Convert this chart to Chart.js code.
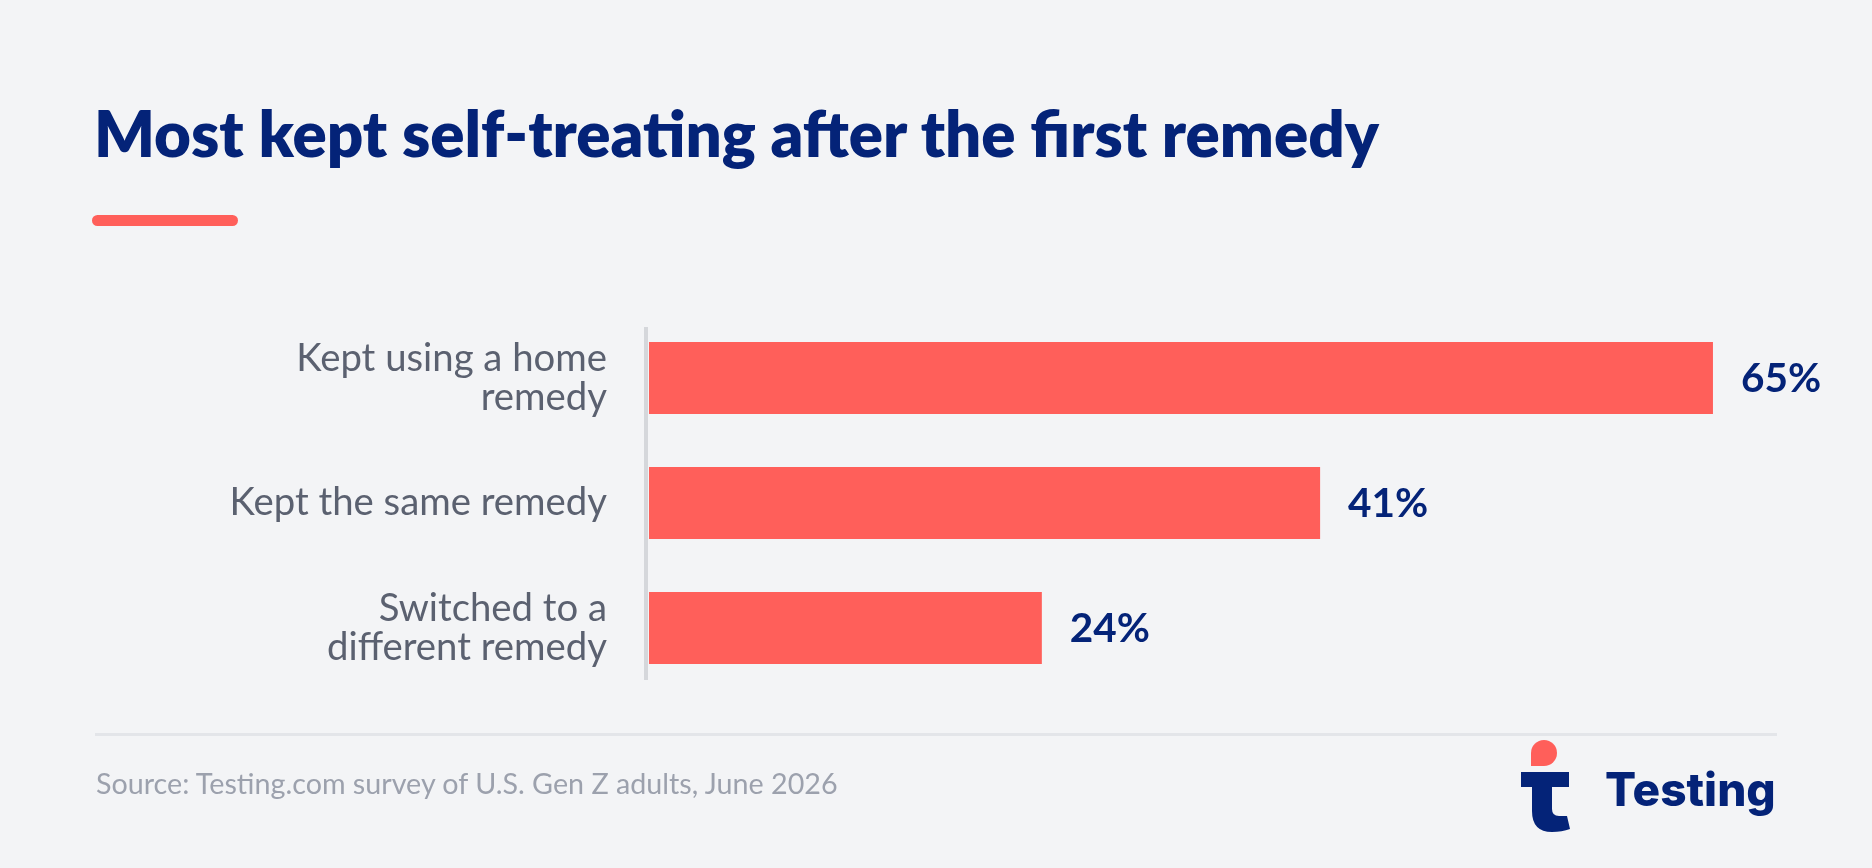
<!DOCTYPE html>
<html>
<head>
<meta charset="utf-8">
<script src="https://cdn.jsdelivr.net/npm/chart.js@4.4.1/dist/chart.umd.min.js"></script>
<style>
  html, body { margin: 0; padding: 0; }
  body { width: 1872px; height: 868px; background: #f3f4f6; position: relative; overflow: hidden; font-family: Lato, "Noto Sans", sans-serif; }
  #wrap { position: absolute; left: 0; top: 0; width: 1872px; height: 868px; }
  .abs { position: absolute; white-space: nowrap; line-height: 1; }
  #title { left: 94px; top: 100.5px; font-size: 63.6px; font-weight: 800; color: #042378; }
  #accent { left: 92px; top: 215px; width: 146px; height: 11px; border-radius: 6px; background: #ff5f5a; }
  #sep { left: 95px; top: 733px; width: 1682px; height: 3px; background: #e3e5e9; }
  #source { left: 96px; top: 769px; font-size: 28.7px; color: #9ca1ad; }
  #brand { left: 1605px; top: 766px; font-family: Inter, sans-serif; font-size: 46px; font-weight: 800; color: #042378; }
  #logo { position: absolute; left: 1515px; top: 736px; }
</style>
</head>
<body>
<div id="wrap"><canvas id="chart" width="1872" height="868"></canvas></div>
<div class="abs" id="title">Most kept self-treating after the first remedy</div>
<div class="abs" id="accent"></div>
<div class="abs" id="sep"></div>
<div class="abs" id="source">Source: Testing.com survey of U.S. Gen Z adults, June 2026</div>
<svg id="logo" width="60" height="100" viewBox="1515 736 60 100">
  <path d="M1531,766 V753 A13,13 0 1 1 1544,766 Z" fill="#ff5f5a"/>
  <path d="M1521,772 H1569 V787 H1552 V809 Q1552,816 1559,816 H1567 L1570,829 Q1562,832 1552,832 Q1532,832 1532,811 V787 H1521 Z" fill="#042378"/>
</svg>
<div class="abs" id="brand">Testing</div>
<script>
const categories = [
  ["Kept using a home", "remedy"],
  ["Kept the same remedy"],
  ["Switched to a", "different remedy"]
];
const values = [65, 41, 24];
const valueSuffix = "%";

const BAR = "#ff5f5a";
const NAVY = "#042378";
const LABEL = "#5b6170";

const axisLine = {
  id: "axisLine",
  beforeDatasetsDraw(chart) {
    const { ctx, chartArea } = chart;
    ctx.save();
    ctx.fillStyle = "#d5d7db";
    ctx.fillRect(chartArea.left - 5, chartArea.top + 11.5, 4, chartArea.height - 22);
    ctx.restore();
  }
};

const valueLabels = {
  id: "valueLabels",
  afterDatasetsDraw(chart) {
    const { ctx } = chart;
    const meta = chart.getDatasetMeta(0);
    ctx.save();
    ctx.font = "700 40.5px Lato";
    ctx.fillStyle = NAVY;
    ctx.textAlign = "left";
    ctx.textBaseline = "alphabetic";
    meta.data.forEach((bar, i) => {
      ctx.fillText(values[i] + valueSuffix, bar.x + 28, bar.y + 13.5);
    });
    ctx.restore();
  }
};

new Chart(document.getElementById("chart"), {
  type: "bar",
  data: {
    labels: categories,
    datasets: [{
      data: values,
      backgroundColor: BAR,
      borderWidth: 0,
      barPercentage: 0.576,
      categoryPercentage: 1
    }]
  },
  options: {
    indexAxis: "y",
    responsive: false,
    animation: false,
    layout: { padding: { left: 0, top: 315.5, bottom: 177.5, right: 77.2 } },
    plugins: { legend: { display: false }, tooltip: { enabled: false } },
    scales: {
      x: { display: false, min: 0, max: 70 },
      y: {
        afterFit(scale) { scale.width = 649; },
        grid: { display: false, drawTicks: false },
        border: { display: false },
        ticks: {
          padding: 42,
          color: LABEL,
          font: { family: "Lato", size: 38.3, lineHeight: 1.0 }
        }
      }
    }
  },
  plugins: [axisLine, valueLabels]
});
</script>
</body>
</html>
